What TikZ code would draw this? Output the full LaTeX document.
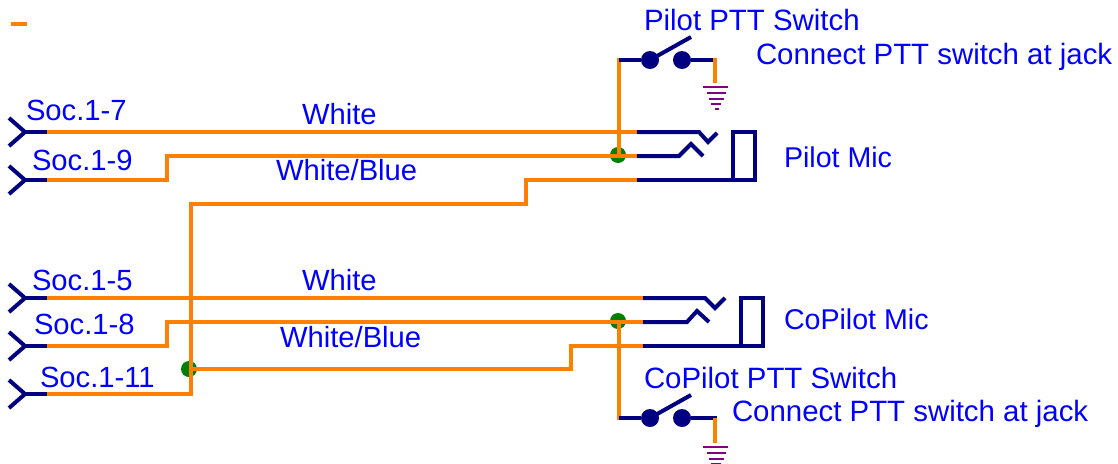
\documentclass[tikz,border=0pt]{standalone}
\usepackage{fontspec}
\setmainfont{Liberation Sans}
\definecolor{wire}{RGB}{255,128,0}
\definecolor{part}{RGB}{0,0,128}
\definecolor{lab}{RGB}{0,0,255}
\definecolor{gnd}{RGB}{128,0,128}
\definecolor{junc}{RGB}{0,128,0}
\tikzset{
  wirel/.style={draw=wire,line width=4pt,line join=miter},
  partl/.style={draw=part,line width=4pt,line join=miter},
  gndl/.style={draw=gnd,line width=2.6pt},
  lbl/.style={anchor=base west,inner sep=0pt,outer sep=0pt,text=lab,font=\fontsize{29.2}{29}\selectfont},
  lblwide/.style={lbl,font=\fontsize{29.4}{29}\selectfont},
  lblnarrow/.style={lbl,font=\fontsize{28.6}{29}\selectfont},
  junction/.style={circle,fill=junc,inner sep=0pt,minimum size=16pt},
  contact/.style={circle,fill=part,inner sep=0pt,minimum size=18pt},
}
\newcommand{\groundsym}[2]{%
  \draw[wirel] (#1,#2-26) -- (#1,#2-1);
  \draw[gndl] (#1-12,#2+3) -- (#1+13,#2+3);
  \draw[gndl] (#1-8,#2+9) -- (#1+11,#2+9);
  \draw[gndl] (#1-6,#2+15) -- (#1+9,#2+15);
  \draw[gndl] (#1-4,#2+20) -- (#1+6,#2+20);
  \draw[gndl] (#1,#2+25) -- (#1+4,#2+25);
}
\newcommand{\sockety}[2]{%
  \coordinate (#1) at (47,#2);
  \draw[partl] (9,#2-14) -- (25,#2) -- (9,#2+14);
  \draw[partl] (25,#2) -- (#1);
}
\begin{document}
\begin{tikzpicture}[x=1pt,y=-1pt]
\useasboundingbox (0,0) rectangle (1118,463);
% junctions (drawn below the wires)
\node[junction] (jA) at (618,155) {};
\node[junction] (jB) at (618,321) {};
\node[junction] (jC) at (189,369) {};
% sockets
\sockety{s7}{132}
\sockety{s9}{180}
\sockety{s5}{298}
\sockety{s8}{346}
\sockety{s11}{394}
% jack terminals
\coordinate (p1) at (637,132);
\coordinate (p2) at (637,156);
\coordinate (p3) at (637,180);
\coordinate (c1) at (643,298);
\coordinate (c2) at (643,322);
\coordinate (c3) at (643,346);
\coordinate (swA) at (619,60);
\coordinate (swB) at (619,418);
% pilot jack
\draw[partl] (p1) -- (699,132) -- (708,142) -- (717,133);
\draw[partl] (p2) -- (679,156) -- (691,144) -- (703,156);
\draw[partl] (p3) -- (755,180) -- (755,132) -- (733,132) -- (733,180);
% copilot jack
\draw[partl] (c1) -- (705,298) -- (715,308) -- (725,298);
\draw[partl] (c2) -- (687,322) -- (697,311) -- (709,322);
\draw[partl] (c3) -- (763,346) -- (763,298) -- (741,298) -- (741,346);
% wires
\draw[wirel] (s7) -- (p1);
\draw[wirel] (s9) -- (167,180) -- (167,156) -- (p2);
\draw[wirel] (s11) -- (191,394) -- (191,204) -- (526,204) -- (526,180) -- (p3);
\draw[wirel] (s5) -- (c1);
\draw[wirel] (s8) -- (167,346) -- (167,322) -- (c2);
\draw[wirel] (191,369) -- (571,369) -- (571,346) -- (c3);
\draw[wirel] (619,58) -- (619,155);
\draw[wirel] (619,321) -- (619,420);
% pilot switch
\node[contact] (a1) at (650,60) {};
\node[contact] (a2) at (682,60) {};
\draw[partl] (swA) -- (a1);
\draw[partl] (a1.center) -- (691,37);
\draw[partl] (a2) -- (717,60);
\groundsym{715}{84}
% copilot switch
\node[contact] (b1) at (650,418) {};
\node[contact] (b2) at (682,418) {};
\draw[partl] (swB) -- (b1);
\draw[partl] (b1.center) -- (691,395);
\draw[partl] (b2) -- (717,418);
\groundsym{715}{444}
% stray mark
\draw[wirel] (11,24) -- (27,24);
% labels
\node[lbl] (l1) at (26,120) {Soc.1-7};
\node[lbl] (l2) at (32,170) {Soc.1-9};
\node[lbl] (l3) at (32,290) {Soc.1-5};
\node[lbl] (l4) at (34,334) {Soc.1-8};
\node[lbl] (l5) at (40,387) {Soc.1-11};
\node[lbl] (l6) at (302,124) {White};
\node[lbl] (l7) at (276,180) {White/Blue};
\node[lbl] (l8) at (302,290) {White};
\node[lbl] (l9) at (280,347) {White/Blue};
\node[lblwide] (l10) at (644,30) {Pilot PTT Switch};
\node[lblwide] (l11) at (756,64) {Connect PTT switch at jack};
\node[lblnarrow] (l12) at (784,167) {Pilot Mic};
\node[lblnarrow] (l13) at (784,329) {CoPilot Mic};
\node[lblwide] (l14) at (644,388) {CoPilot PTT Switch};
\node[lblwide] (l15) at (732,421) {Connect PTT switch at jack};
\end{tikzpicture}
\end{document}
